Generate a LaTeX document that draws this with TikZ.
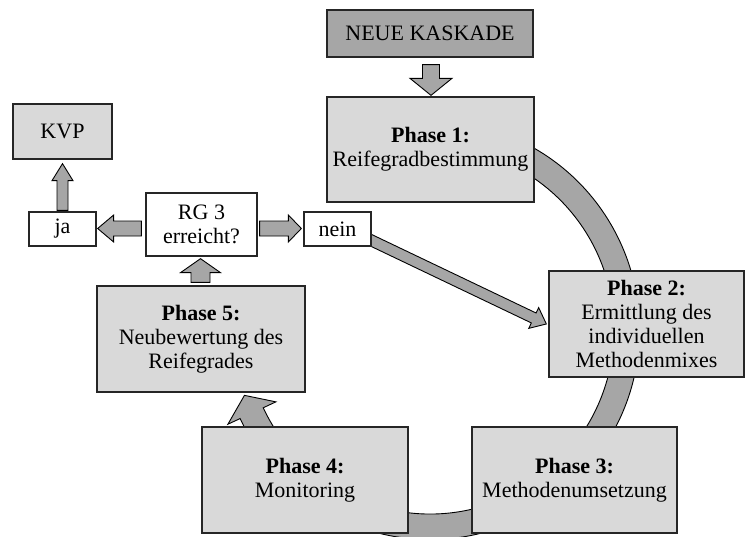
\documentclass[tikz,border=0pt]{standalone}
\usepackage{fontspec}
\setmainfont{Liberation Serif}
\usetikzlibrary{calc,backgrounds}
\definecolor{boxgray}{HTML}{D9D9D9}
\definecolor{kaskgray}{HTML}{A6A6A6}
\definecolor{arrowgray}{HTML}{A6A6A6}
\definecolor{edgecol}{HTML}{262626}
\newcommand{\blkarrow}[5]{%
  \coordinate (bh) at ($(#2)!#5!(#1)$);
  \draw[blockarrow] ($(#1)!#3!90:(#2)$) -- ($(bh)!#3!90:(#2)$) -- ($(bh)!#4!90:(#2)$) -- (#2)
    -- ($(bh)!#4!-90:(#2)$) -- ($(bh)!#3!-90:(#2)$) -- ($(#1)!#3!-90:(#2)$) -- cycle;
}
\begin{document}
\begin{tikzpicture}[x=1pt,y=1pt,
  font=\fontsize{22}{24}\selectfont,
  box/.style={draw=edgecol, line width=1.3pt, fill=boxgray, inner sep=0pt, align=center, text=black},
  blockarrow/.style={draw=black, line width=0.9pt, fill=arrowgray, line join=miter}]
\useasboundingbox (0,0) rectangle (745,-536);
\clip (0,0) rectangle (745,-536);

% boxes
\node[box, fill=kaskgray, minimum width=206pt, minimum height=47pt] (neue) at (430,-33.5) {NEUE KASKADE};
\node[box, minimum width=207pt, minimum height=105pt] (p1) at (430.5,-149.5) {\textbf{Phase 1:}\\Reifegradbestimmung};
\node[box, minimum width=195pt, minimum height=106pt] (p2) at (646.5,-324) {\textbf{Phase 2:}\\Ermittlung des\\individuellen\\Methodenmixes};
\node[box, minimum width=205pt, minimum height=106pt] (p3) at (574.5,-480) {\textbf{Phase 3:}\\Methodenumsetzung};
\node[box, minimum width=206pt, minimum height=106pt] (p4) at (305,-480) {\textbf{Phase 4:}\\Monitoring};
\node[box, minimum width=208pt, minimum height=106pt] (p5) at (201,-339) {\textbf{Phase 5:}\\Neubewertung des\\Reifegrades};
\node[box, minimum width=99pt, minimum height=55pt] (kvp) at (62.5,-131.5) {KVP};
\node[box, fill=white, minimum width=111pt, minimum height=63pt] (rg) at (201.5,-224.5) {RG 3\\erreicht?};
\node[box, fill=white, minimum width=67pt, minimum height=34pt] (ja) at (62.5,-229) {ja};
\node[box, fill=white, minimum width=67pt, minimum height=34pt] (nein) at (337.5,-229) {nein};

% arrow end points
\coordinate (a1s) at ($(neue.south)+(1,-7)$);
\coordinate (a1e) at ($(p1.north)+(0.5,1)$);
\coordinate (a2s) at ($(ja.north)+(0,1)$);
\coordinate (a2e) at ($(kvp.south)+(0,-4)$);
\coordinate (a3s) at ($(rg.west)+(-4,-4)$);
\coordinate (a3e) at ($(ja.east)+(1,0.5)$);
\coordinate (a4s) at ($(rg.east)+(2,-4)$);
\coordinate (a4e) at ($(nein.west)+(-2,0.5)$);
\coordinate (a5s) at ($(p5.north)+(-0.5,3)$);
\coordinate (a5e) at ($(rg.south)+(-1,-2)$);
\coordinate (a6s) at ($(nein.east)+(-6,-8.7)$);
\coordinate (a6e) at ($(p2.west)+(-2,0)$);

\begin{scope}[on background layer]
  % cycle band ending in the arrow from Phase 4 to Phase 5
  \draw[blockarrow, shift={(430,-330)}] (70:209.5) arc[start angle=70,end angle=-155,radius=209.5]
    -- (-155:223) -- (-160.6:196.75) -- (-155:170) -- (-155:184)
    arc[start angle=-155,end angle=70,radius=184] -- cycle;
  \blkarrow{a6s}{a6e}{5.5pt}{11.5pt}{14pt}
\end{scope}

\blkarrow{a1s}{a1e}{8.5pt}{21pt}{17pt}
\blkarrow{a2s}{a2e}{5.5pt}{10.5pt}{17pt}
\blkarrow{a3s}{a3e}{7.5pt}{13.5pt}{16pt}
\blkarrow{a4s}{a4e}{7.5pt}{13.5pt}{13pt}
\blkarrow{a5s}{a5e}{9.5pt}{20pt}{14pt}
\end{tikzpicture}
\end{document}
